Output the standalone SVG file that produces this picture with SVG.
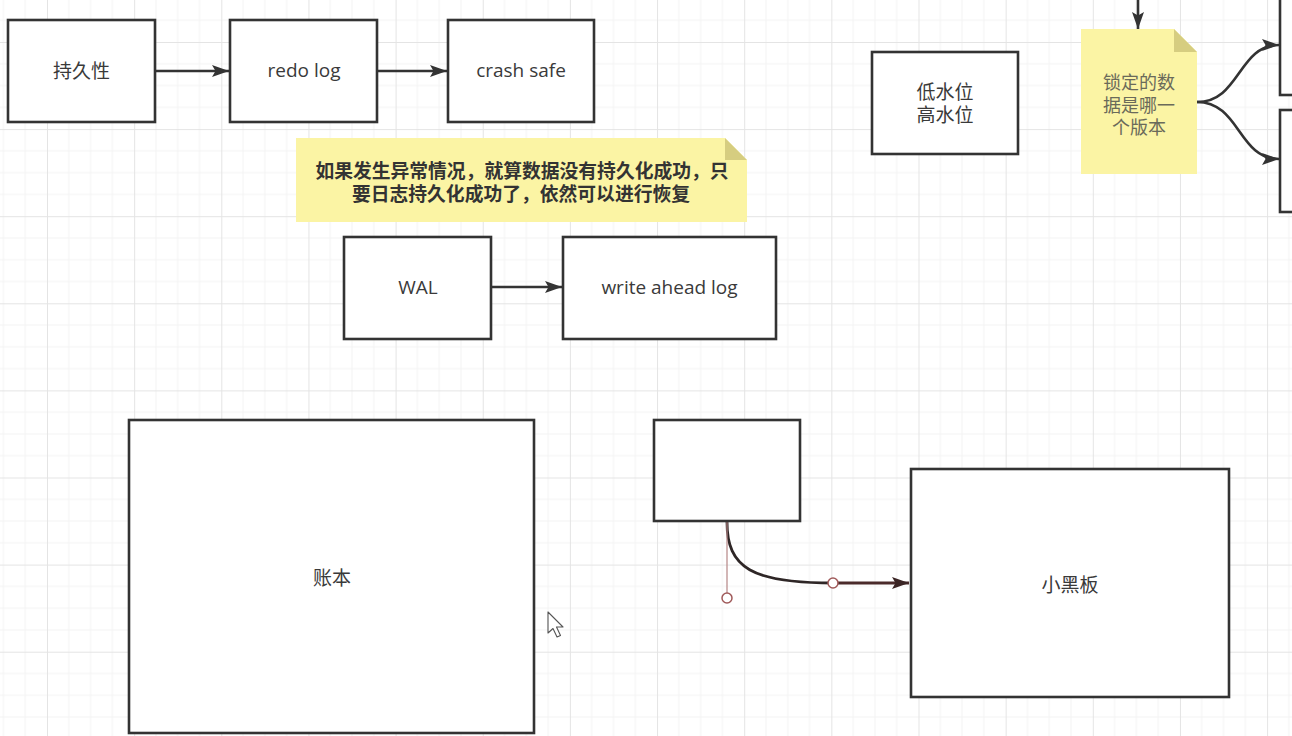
<svg xmlns="http://www.w3.org/2000/svg" width="1292" height="736" viewBox="0 0 1292 736">
<defs>
<style>
.box{fill:#ffffff;stroke:#333333;stroke-width:2.6}
.note{fill:#fbf4a4}
.fold{fill:#d6cd80}
.lbl{font-family:"Open Sans","Noto Sans CJK SC",sans-serif;font-size:19px;fill:#3a3a3a;text-anchor:middle}
.nlbl{font-family:"Noto Sans CJK SC","Open Sans",sans-serif;font-size:18px;fill:#6a6a5a;text-anchor:middle}
.blbl{font-family:"Noto Sans CJK SC",sans-serif;font-size:18.8px;font-weight:bold;fill:#333333;text-anchor:middle}
.edge{fill:none;stroke:#333333;stroke-width:2.6}
.handle{fill:#ffffff;stroke:#a05a5a;stroke-width:1.5}
</style>
<pattern id="grid" x="47" y="42" width="87.15" height="87.1" patternUnits="userSpaceOnUse">
<path d="M21.79,0V87.1M43.58,0V87.1M65.36,0V87.1M0,21.78H87.15M0,43.55H87.15M0,65.33H87.15" stroke="#f3f3f3" stroke-width="1" fill="none"/>
<path d="M0.5,0V87.1M0,0.5H87.15" stroke="#e4e4e4" stroke-width="1" fill="none"/>
</pattern>
<marker id="arr" markerUnits="userSpaceOnUse" markerWidth="18" markerHeight="13" refX="17" refY="6.5" orient="auto">
<path d="M0,0.5 L17,6.5 L0,12.5 L3.5,6.5 Z" fill="#333333"/>
</marker>
<marker id="arr2" markerUnits="userSpaceOnUse" markerWidth="18" markerHeight="13" refX="17" refY="6.5" orient="auto">
<path d="M0,0.5 L17,6.5 L0,12.5 L3.5,6.5 Z" fill="#3a2424"/>
</marker>
</defs>
<rect x="0" y="0" width="1292" height="736" fill="#ffffff"/>
<rect x="0" y="0" width="1292" height="736" fill="url(#grid)"/>

<g id="connectors">
<path class="edge" d="M155,71 H229" marker-end="url(#arr)"/>
<path class="edge" d="M377,71 H447" marker-end="url(#arr)"/>
<path class="edge" d="M491,287 H562" marker-end="url(#arr)"/>
<path class="edge" d="M1138,0 V29" marker-end="url(#arr)"/>
<path class="edge" d="M1197,102 C1240,102 1238,45 1279,45" marker-end="url(#arr)"/>
<path class="edge" d="M1197,102 C1240,102 1238,159 1279,159" marker-end="url(#arr)"/>
<path d="M727,522 C727,568 752,583 833,583" fill="none" stroke="#2e2626" stroke-width="2.8"/>
<path d="M833,583 H909" fill="none" stroke="#4a2a2a" stroke-width="2.8" marker-end="url(#arr2)"/>
<line x1="727" y1="522" x2="727" y2="593" stroke="#b58585" stroke-width="1.2"/>
<circle class="handle" cx="727" cy="598" r="5"/>
<circle class="handle" cx="833" cy="583" r="5"/>
</g>

<g id="node-durability">
<rect class="box" x="8" y="20" width="147" height="102"/>
<text class="lbl" x="81.5" y="78">持久性</text>
</g>
<g id="node-redolog">
<rect class="box" x="230" y="20" width="147" height="102"/>
<text class="lbl" x="304" y="77">redo log</text>
</g>
<g id="node-crashsafe">
<rect class="box" x="448" y="20" width="146" height="102"/>
<text class="lbl" x="521" y="77">crash safe</text>
</g>
<g id="note-recovery">
<path class="note" d="M296,138 H725 L747,160 V222 H296 Z"/>
<path class="fold" d="M725,138 L747,160 H725 Z"/>
<text class="blbl" x="522" y="178">如果发生异常情况，就算数据没有持久化成功，只</text>
<text class="blbl" x="521" y="201">要日志持久化成功了，依然可以进行恢复</text>
</g>
<g id="node-wal">
<rect class="box" x="344" y="237" width="147" height="102"/>
<text class="lbl" x="418" y="294">WAL</text>
</g>
<g id="node-writeaheadlog">
<rect class="box" x="563" y="237" width="213" height="102"/>
<text class="lbl" x="669.5" y="294">write ahead log</text>
</g>
<g id="node-watermark">
<rect class="box" x="872" y="52" width="146" height="102"/>
<text class="lbl" x="945" y="99">低水位</text>
<text class="lbl" x="945" y="122">高水位</text>
</g>
<g id="note-version">
<path class="note" d="M1081,29 H1174 L1197,52 V174 H1081 Z"/>
<path class="fold" d="M1174,29 L1197,52 H1174 Z"/>
<text class="nlbl" x="1139" y="89">锁定的数</text>
<text class="nlbl" x="1139" y="112">据是哪一</text>
<text class="nlbl" x="1139" y="134">个版本</text>
</g>
<g id="node-right-top">
<rect class="box" x="1280" y="-20" width="40" height="115"/>
</g>
<g id="node-right-bottom">
<rect class="box" x="1280" y="110" width="40" height="102"/>
</g>
<g id="node-ledger">
<rect class="box" x="129" y="420" width="405" height="313"/>
<text class="lbl" x="332" y="585">账本</text>
</g>
<g id="node-small">
<rect class="box" x="654" y="420" width="146" height="101"/>
</g>
<g id="node-blackboard">
<rect class="box" x="911" y="469" width="318" height="228"/>
<text class="lbl" x="1070" y="592">小黑板</text>
</g>
<g id="cursor">
<path d="M548,612 V633 L553,628.5 L557,637 L560.5,635.5 L556.5,627 L563,627 Z" fill="#ffffff" stroke="#555555" stroke-width="1.1" stroke-linejoin="round"/>
</g>
</svg>
